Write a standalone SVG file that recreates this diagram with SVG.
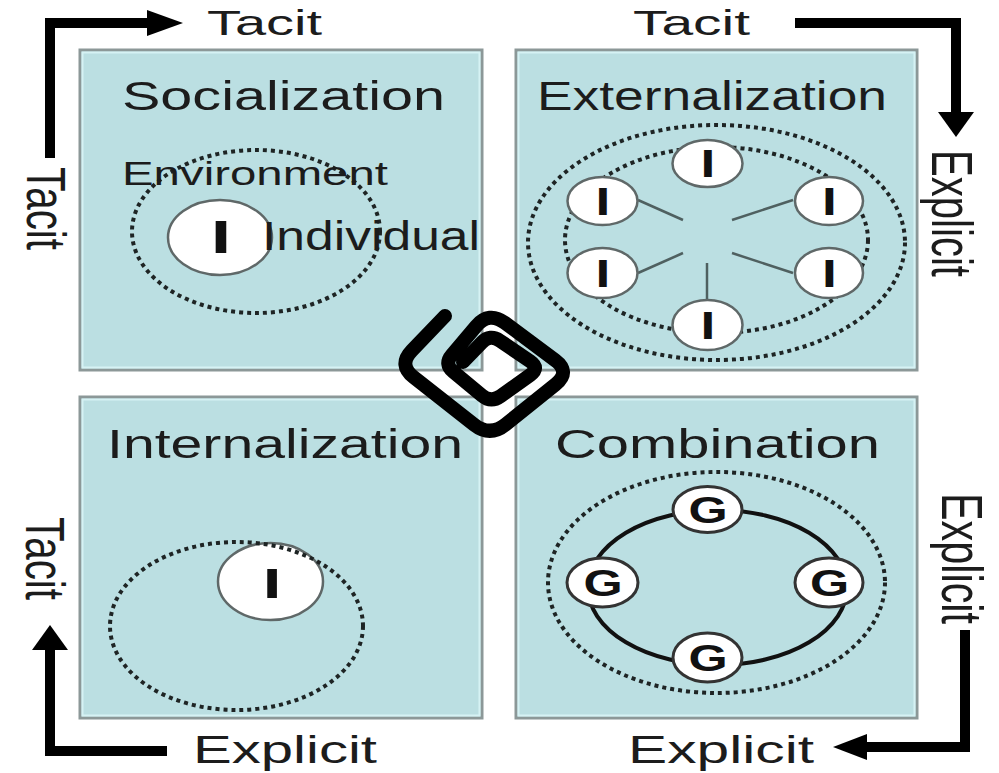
<svg xmlns="http://www.w3.org/2000/svg" width="999" height="773" viewBox="0 0 999 773">
<style>
text { font-family: "Liberation Sans", Arial, sans-serif; fill: #1c1c1c; }
.box { fill: #bbdfe2; stroke: #8c9898; stroke-width: 3; }
.hl { fill: none; stroke: #d6f2f4; stroke-width: 2; }
.dot { fill: none; stroke: #1e2424; stroke-width: 4; stroke-dasharray: 4 4; }
.ind { fill: #ffffff; stroke: #5f6868; stroke-width: 2.5; }
.grp { fill: #ffffff; stroke: #333333; stroke-width: 3; }
.lnk { fill: none; stroke: #4f6060; stroke-width: 2.5; }
.ltr { font-weight: bold; text-anchor: middle; fill: #111111; }
.title { font-size: 41px; }
.arr { fill: none; stroke: #000000; stroke-width: 10; stroke-linejoin: miter; stroke-linecap: butt; }
.head { fill: #000000; }
</style>

<g id="socialization">
  <rect class="box" x="80" y="50" width="402" height="320"/>
  <rect class="hl" x="82.5" y="52.5" width="397" height="315"/>
  <text class="title" x="122" y="110" textLength="323" lengthAdjust="spacingAndGlyphs">Socialization</text>
  <ellipse class="dot" cx="256" cy="231.5" rx="124" ry="81.5"/>
  <text x="122" y="185" font-size="33" textLength="266" lengthAdjust="spacingAndGlyphs">Environment</text>
  <ellipse class="ind" cx="220" cy="237.5" rx="52" ry="37.5"/>
  <text class="ltr" font-size="46" transform="translate(221,253) scale(1.6,1)">I</text>
  <text x="262" y="250" font-size="40" textLength="218" lengthAdjust="spacingAndGlyphs">Individual</text>
</g>

<g id="externalization">
  <rect class="box" x="516" y="50" width="401" height="320"/>
  <rect class="hl" x="518.5" y="52.5" width="396" height="315"/>
  <text class="title" x="537" y="110" textLength="350" lengthAdjust="spacingAndGlyphs">Externalization</text>
  <ellipse class="dot" cx="716.5" cy="242.5" rx="188.5" ry="117.5"/>
  <ellipse class="dot" cx="716.5" cy="240" rx="151.5" ry="93"/>
  <line class="lnk" x1="638" y1="200" x2="683" y2="220"/>
  <line class="lnk" x1="793" y1="200" x2="732" y2="220"/>
  <line class="lnk" x1="638" y1="273" x2="683" y2="253"/>
  <line class="lnk" x1="793" y1="273" x2="732" y2="253"/>
  <line class="lnk" x1="707" y1="263" x2="707" y2="300"/>
  <ellipse class="ind" cx="707.5" cy="163.5" rx="35" ry="23.5"/>
  <ellipse class="ind" cx="602.5" cy="201" rx="35" ry="24"/>
  <ellipse class="ind" cx="829" cy="201" rx="34" ry="24"/>
  <ellipse class="ind" cx="602.5" cy="273" rx="35" ry="25"/>
  <ellipse class="ind" cx="829" cy="273" rx="34" ry="25"/>
  <ellipse class="ind" cx="707.5" cy="325" rx="35" ry="25"/>
  <text class="ltr" font-size="38" transform="translate(708,177) scale(1.4,1)">I</text>
  <text class="ltr" font-size="38" transform="translate(603,214.5) scale(1.4,1)">I</text>
  <text class="ltr" font-size="38" transform="translate(829.5,214.5) scale(1.4,1)">I</text>
  <text class="ltr" font-size="38" transform="translate(603,286.5) scale(1.4,1)">I</text>
  <text class="ltr" font-size="38" transform="translate(829.5,286.5) scale(1.4,1)">I</text>
  <text class="ltr" font-size="38" transform="translate(708,338.5) scale(1.4,1)">I</text>
</g>

<g id="internalization">
  <rect class="box" x="80" y="397" width="402" height="321"/>
  <rect class="hl" x="82.5" y="399.5" width="397" height="316"/>
  <text class="title" x="107" y="458" textLength="356" lengthAdjust="spacingAndGlyphs">Internalization</text>
  <ellipse class="ind" cx="270.5" cy="581.5" rx="52.5" ry="38.5"/>
  <text class="ltr" font-size="42" transform="translate(272,598) scale(1.6,1)">I</text>
  <ellipse class="dot" cx="236.5" cy="626" rx="126.5" ry="84"/>
</g>

<g id="combination">
  <rect class="box" x="516" y="397" width="401" height="321"/>
  <rect class="hl" x="518.5" y="399.5" width="396" height="316"/>
  <text class="title" x="555" y="458" textLength="325" lengthAdjust="spacingAndGlyphs">Combination</text>
  <ellipse class="dot" cx="716.5" cy="582.5" rx="168.5" ry="110.5"/>
  <ellipse cx="717.5" cy="587.5" rx="129.5" ry="77.5" fill="none" stroke="#111111" stroke-width="4"/>
  <ellipse class="grp" cx="707.5" cy="509.5" rx="34.5" ry="23"/>
  <ellipse class="grp" cx="602.5" cy="582.5" rx="35.5" ry="24.5"/>
  <ellipse class="grp" cx="829" cy="582.5" rx="34" ry="24.5"/>
  <ellipse class="grp" cx="707.5" cy="657.5" rx="34.5" ry="24.5"/>
  <text class="ltr" font-size="36" transform="translate(708,522.5) scale(1.4,1)">G</text>
  <text class="ltr" font-size="36" transform="translate(603,595.5) scale(1.4,1)">G</text>
  <text class="ltr" font-size="36" transform="translate(829.5,595.5) scale(1.4,1)">G</text>
  <text class="ltr" font-size="36" transform="translate(708,670.5) scale(1.4,1)">G</text>
</g>

<g id="axis-labels">
  <text x="207" y="35" font-size="35" textLength="115" lengthAdjust="spacingAndGlyphs">Tacit</text>
  <text x="633" y="35" font-size="35" textLength="117" lengthAdjust="spacingAndGlyphs">Tacit</text>
  <text x="193" y="763" font-size="38" textLength="184" lengthAdjust="spacingAndGlyphs">Explicit</text>
  <text x="628" y="763" font-size="38" textLength="186" lengthAdjust="spacingAndGlyphs">Explicit</text>
  <text font-size="38" textLength="83" lengthAdjust="spacingAndGlyphs" transform="translate(27,167) rotate(90) scale(1,1.45)">Tacit</text>
  <text font-size="40" textLength="127" lengthAdjust="spacingAndGlyphs" transform="translate(932,150) rotate(90) scale(1,1.45)">Explicit</text>
  <text font-size="38" textLength="83" lengthAdjust="spacingAndGlyphs" transform="translate(26,517) rotate(90) scale(1,1.45)">Tacit</text>
  <text font-size="40" textLength="131" lengthAdjust="spacingAndGlyphs" transform="translate(942,493) rotate(90) scale(1,1.45)">Explicit</text>
</g>

<g id="connectors">
  <path class="arr" d="M50 158 V23 H150"/>
  <polygon class="head" points="147,10 183,23 147,36"/>
  <path class="arr" d="M795 23 H956 V114"/>
  <polygon class="head" points="938,112 956,137 974,112"/>
  <path class="arr" d="M167 751 H50 V648"/>
  <polygon class="head" points="32,650 50,625 68,650"/>
  <path class="arr" d="M965 630 V747 H866"/>
  <polygon class="head" points="867,734 833,747 867,760"/>
</g>

<g id="spiral">
  <path d="M445 316 L411.8 350.6 Q398 365 413.8 377.3 L474.2 424.7 Q490 437 505.6 424.5 L555.4 384.5 Q571 372 555 360.1 L505 322.9 Q489 311 476.1 326.2 L451.8 354.9 Q444 364 453.2 371.7 L481.8 395.3 Q491 403 500.8 396 L530.2 375 Q540 368 530.1 361.3 L499.9 340.7 Q490 334 481.7 342.6 L463 362" fill="none" stroke="#000000" stroke-width="14" stroke-linejoin="round" stroke-linecap="round"/>
</g>
</svg>
